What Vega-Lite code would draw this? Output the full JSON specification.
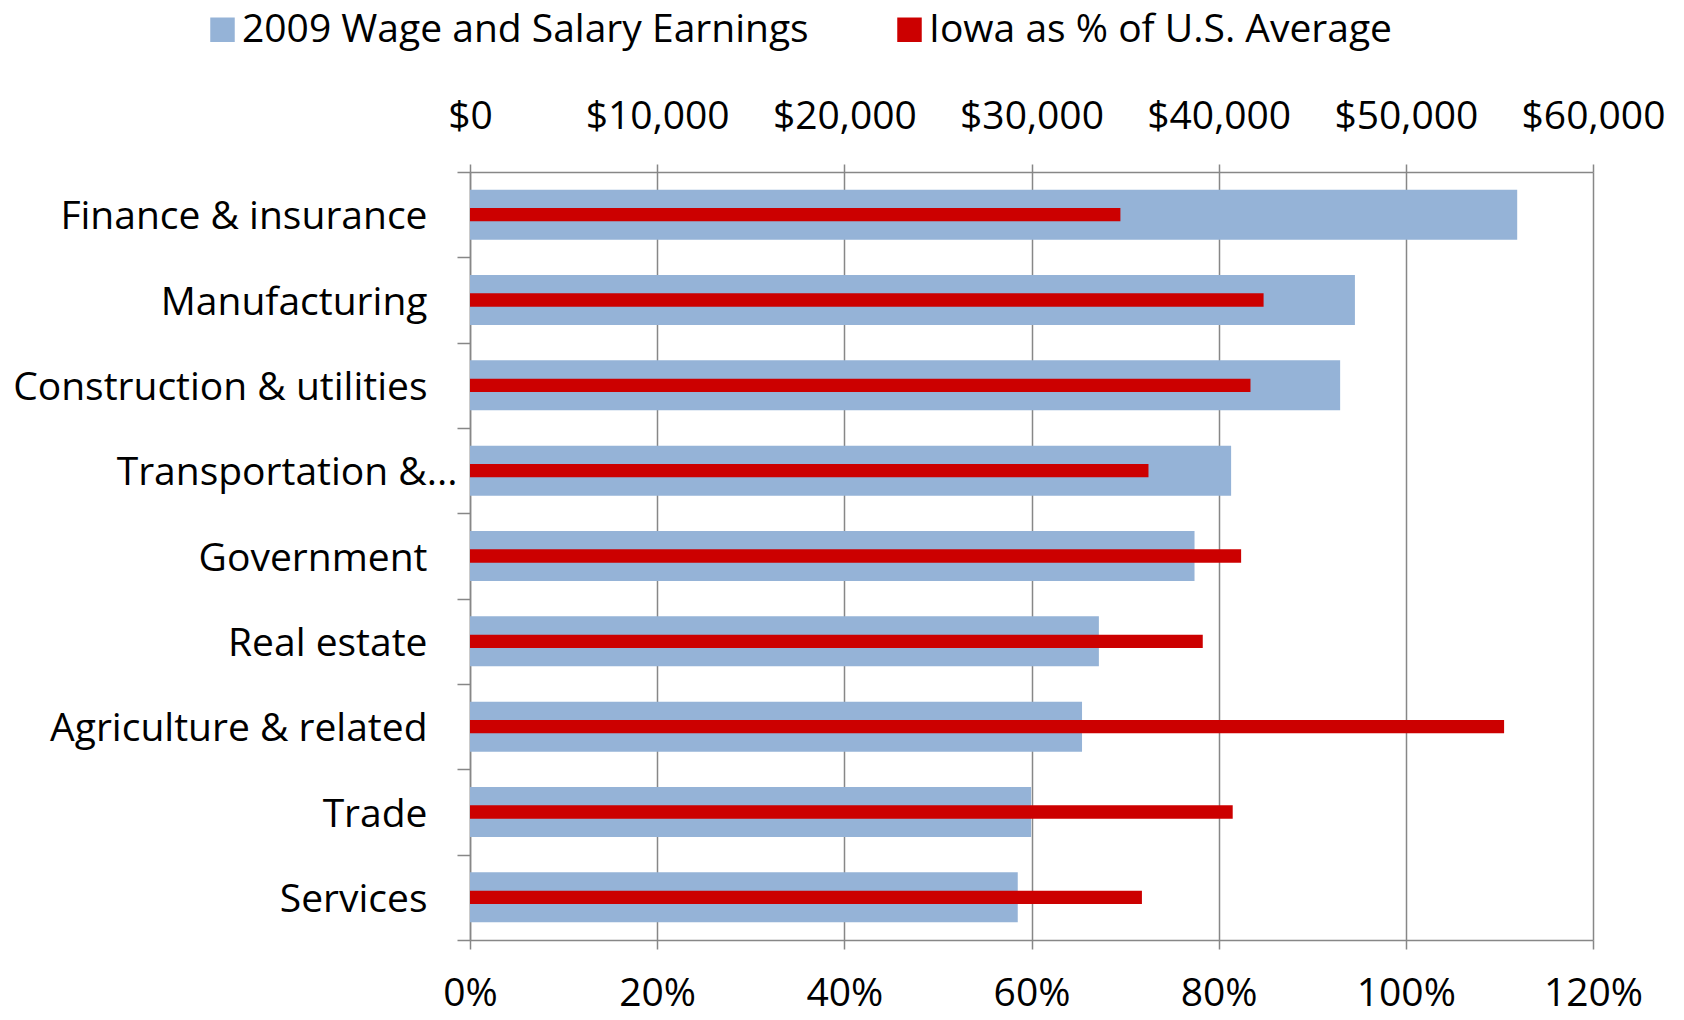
{
  "$schema": "https://vega.github.io/schema/vega-lite/v6.json",
  "width": 1123,
  "height": 768,
  "autosize": {"type": "none"},
  "padding": {"left": 470, "top": 172, "right": 91, "bottom": 80},
  "background": "white",
  "config": {
    "font": "Open Sans",
    "view": {"stroke": null},
    "axis": {
      "labelFont": "Open Sans",
      "labelFontSize": 39,
      "labelColor": "#000000",
      "domainColor": "#878787",
      "domainWidth": 1.5,
      "tickColor": "#878787",
      "tickWidth": 1.5,
      "gridColor": "#878787",
      "gridWidth": 1.5,
      "labelOverlap": false,
      "labelFlush": false,
      "labelBound": false,
      "title": null
    }
  },
  "data": {
    "values": [
      {"category": "Finance & insurance", "earnings": 55950, "pct": 0.695},
      {"category": "Manufacturing", "earnings": 47280, "pct": 0.848},
      {"category": "Construction & utilities", "earnings": 46490, "pct": 0.834},
      {"category": "Transportation &...", "earnings": 40665, "pct": 0.725},
      {"category": "Government", "earnings": 38710, "pct": 0.824},
      {"category": "Real estate", "earnings": 33600, "pct": 0.783},
      {"category": "Agriculture & related", "earnings": 32700, "pct": 1.105},
      {"category": "Trade", "earnings": 29980, "pct": 0.815},
      {"category": "Services", "earnings": 29265, "pct": 0.718}
    ]
  },
  "encoding": {
    "y": {
      "field": "category",
      "type": "nominal",
      "sort": null,
      "scale": {"paddingInner": 0, "paddingOuter": 0},
      "axis": {
        "orient": "left",
        "tickBand": "extent",
        "tickSize": 13,
        "labelPadding": {"condition": {"test": "datum.value === 'Transportation &...'", "value": 0}, "value": 30},
        "labelOffset": 2,
        "labelLimit": 0,
        "grid": false
      }
    }
  },
  "layer": [
    {
      "mark": {"type": "bar", "height": {"band": 0.586}},
      "encoding": {
        "x": {
          "field": "earnings",
          "type": "quantitative",
          "scale": {"domain": [0, 60000], "nice": false},
          "axis": {
            "orient": "top",
            "values": [0, 10000, 20000, 30000, 40000, 50000, 60000],
            "format": "$,.0f",
            "grid": false,
            "tickSize": 8,
            "labelPadding": 28
          }
        },
        "color": {
          "datum": "2009 Wage and Salary Earnings",
          "type": "nominal",
          "scale": {
            "domain": ["2009 Wage and Salary Earnings", "Iowa as % of U.S. Average"],
            "range": ["#95B3D7", "#CC0000"]
          },
          "legend": {
            "orient": "none",
            "direction": "horizontal",
            "columns": 2,
            "legendX": -267,
            "legendY": -162,
            "padding": 0,
            "title": null,
            "symbolType": "square",
            "symbolSize": 600,
            "symbolStrokeWidth": 0,
            "labelFontSize": 39,
            "labelFont": "Open Sans",
            "labelColor": "#000000",
            "labelOffset": 0,
            "columnPadding": 81,
            "labelLimit": 0
          }
        }
      }
    },
    {
      "mark": {"type": "bar", "height": {"band": 0.156}},
      "encoding": {
        "x": {
          "field": "pct",
          "type": "quantitative",
          "scale": {"domain": [0, 1.2], "nice": false},
          "axis": {
            "orient": "bottom",
            "values": [0, 0.2, 0.4, 0.6, 0.8, 1.0, 1.2],
            "format": ".0%",
            "grid": true,
            "tickSize": 9,
            "labelPadding": 25
          }
        },
        "color": {
          "datum": "Iowa as % of U.S. Average",
          "type": "nominal"
        }
      }
    }
  ],
  "resolve": {"scale": {"x": "independent"}}
}
